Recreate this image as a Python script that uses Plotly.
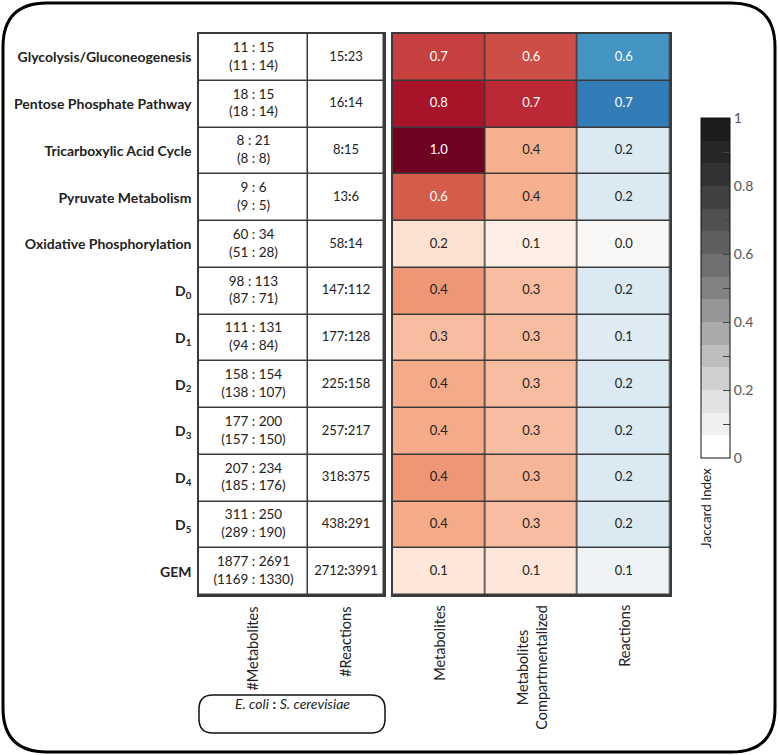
import plotly.graph_objects as go

W, H = 778, 755

# ---------------- data ----------------
pathways = ["Glycolysis/Gluconeogenesis", "Pentose Phosphate Pathway", "Tricarboxylic Acid Cycle",
            "Pyruvate Metabolism", "Oxidative Phosphorylation",
            "D<sub>0</sub>", "D<sub>1</sub>", "D<sub>2</sub>", "D<sub>3</sub>", "D<sub>4</sub>",
            "D<sub>5</sub>", "GEM"]
met_counts = ["11 : 15", "18 : 15", "8 : 21", "9 : 6", "60 : 34", "98 : 113", "111 : 131",
              "158 : 154", "177 : 200", "207 : 234", "311 : 250", "1877 : 2691"]
met_counts_comp = ["11 : 14", "18 : 14", "8 : 8", "9 : 5", "51 : 28", "87 : 71", "94 : 84",
                   "138 : 107", "157 : 150", "185 : 176", "289 : 190", "1169 : 1330"]
rxn_counts = ["15:23", "16:14", "8:15", "13:6", "58:14", "147:112", "177:128", "225:158",
              "257:217", "318:375", "438:291", "2712:3991"]
jaccard_met = [0.69, 0.83, 0.98, 0.61, 0.16, 0.44, 0.31, 0.38, 0.38, 0.44, 0.38, 0.12]
jaccard_met_comp = [0.649, 0.749, 0.36, 0.36, 0.07, 0.31, 0.31, 0.31, 0.31, 0.34, 0.31, 0.12]
jaccard_rxn = [0.60, 0.70, 0.155, 0.155, 0.02, 0.155, 0.14, 0.155, 0.155, 0.155, 0.155, 0.07]
table_cols = ["#Metabolites", "#Reactions"]
heat_cols = ["Metabolites", "Metabolites<br>Compartmentalized", "Reactions"]
cbar_ticks = [0, 0.1, 0.2, 0.3, 0.4, 0.5, 0.6, 0.7, 0.8, 0.9, 1]
cbar_ticktext = ["0", "", "0.2", "", "0.4", "", "0.6", "", "0.8", "", "1"]
legend_text = "<i>E. coli</i> <b>:</b> <i>S. cerevisiae</i>"

# ---------------- styles ----------------
FONT = "Lato"
DARK = "#222222"
GRID = "#3a3a3a"
reds = [[0.0, "rgb(255,250,246)"], [0.2, "rgb(253,219,199)"], [0.4, "rgb(244,165,130)"],
        [0.6, "rgb(214,96,77)"], [0.8, "rgb(178,24,43)"], [1.0, "rgb(103,0,31)"]]
blues = [[0.0, "rgb(253,250,248)"], [0.2, "rgb(209,229,240)"], [0.4, "rgb(146,197,222)"],
         [0.6, "rgb(67,147,195)"], [0.8, "rgb(33,102,172)"], [1.0, "rgb(5,48,97)"]]
greys_levels = [255, 240, 226, 208, 190, 170, 150, 130, 112, 95, 80, 65, 50, 38, 28]
n = len(greys_levels)
greys = []
for i, g in enumerate(greys_levels):
    c = f"rgb({g},{g},{g})"
    greys.append([i / n, c])
    greys.append([(i + 1) / n, c])

nrow = len(pathways)
rows_edges = list(range(nrow + 1))
row_centers = [i + 0.5 for i in range(nrow)]

def px_x(p):
    return p / W

def px_y(p):
    return 1 - p / H

# table / heatmap geometry (pixels)
TAB_L, TAB_M, TAB_R = 199, 308, 384
HM_L, HM_R = 392.5, 670
TOP, BOT = 34, 595

fig = go.Figure()

# ---- table cells (white) ----
tab_edges = [0, TAB_M - TAB_L, TAB_R - TAB_L]
fig.add_trace(go.Heatmap(
    z=[[0, 0] for _ in range(nrow)], x=tab_edges, y=rows_edges,
    colorscale=[[0, "white"], [1, "white"]], zmin=0, zmax=1, showscale=False,
    xgap=1.5, ygap=1.5, hoverinfo="skip", xaxis="x", yaxis="y"))
tab_c1 = (tab_edges[0] + tab_edges[1]) / 2
tab_c2 = (tab_edges[1] + tab_edges[2]) / 2
fig.add_trace(go.Scatter(
    x=[tab_c1] * nrow, y=row_centers, mode="text",
    text=[f"{a}<br>({b})" for a, b in zip(met_counts, met_counts_comp)],
    textfont=dict(family=FONT, size=13.5, color=DARK), hoverinfo="skip",
    showlegend=False, xaxis="x", yaxis="y"))
fig.add_trace(go.Scatter(
    x=[tab_c2] * nrow, y=row_centers, mode="text",
    text=[r.replace(":", "<b>:</b>") for r in rxn_counts],
    textfont=dict(family=FONT, size=13, color=DARK), hoverinfo="skip",
    showlegend=False, xaxis="x", yaxis="y"))

# ---- heatmaps ----
fig.add_trace(go.Heatmap(
    z=[[a, b] for a, b in zip(jaccard_met, jaccard_met_comp)], x=[0, 1, 2], y=rows_edges,
    colorscale=reds, zmin=0, zmax=1, showscale=False, xgap=1.5, ygap=1.5,
    hoverinfo="skip", xaxis="x2", yaxis="y2"))
fig.add_trace(go.Heatmap(
    z=[[c] for c in jaccard_rxn], x=[2, 3], y=rows_edges,
    colorscale=blues, zmin=0, zmax=1, showscale=False, xgap=1.5, ygap=1.5,
    hoverinfo="skip", xaxis="x2", yaxis="y2"))
for ci, vals in enumerate([jaccard_met, jaccard_met_comp, jaccard_rxn]):
    fig.add_trace(go.Scatter(
        x=[ci + 0.5] * nrow, y=row_centers, mode="text",
        text=[f"{v:.1f}" for v in vals],
        textfont=dict(family=FONT, size=13,
                      color=["white" if v >= 0.5 else DARK for v in vals]),
        hoverinfo="skip", showlegend=False, xaxis="x2", yaxis="y2"))

# ---- colorbar (Jaccard Index) ----
fig.add_trace(go.Scatter(
    x=[None], y=[None], mode="markers", xaxis="x2", yaxis="y2", showlegend=False,
    marker=dict(color=[0], cmin=0, cmax=1, colorscale=greys, showscale=True,
                colorbar=dict(
                    x=px_x(701), xanchor="left", xref="paper",
                    y=px_y(118), yanchor="top", yref="paper",
                    len=340, lenmode="pixels", thickness=29, thicknessmode="pixels",
                    outlinewidth=1, outlinecolor="#111",
                    tickmode="array", tickvals=cbar_ticks, ticktext=cbar_ticktext,
                    ticks="inside", ticklen=7, tickcolor="#444", tickwidth=1.2,
                    tickfont=dict(family=FONT, size=14, color="#555"),
                    xpad=0, ypad=0))))

axis_common = dict(showgrid=False, zeroline=False, showline=True, mirror=True,
                   linecolor=GRID, linewidth=1.5)

fig.update_layout(
    width=W, height=H, autosize=False,
    margin=dict(l=0, r=0, t=0, b=0),
    paper_bgcolor="white", plot_bgcolor=GRID,
    font=dict(family=FONT, color=DARK),
    showlegend=False,
    xaxis=dict(domain=[px_x(TAB_L), px_x(TAB_R)], range=[0, tab_edges[-1]],
               tickmode="array", tickvals=[tab_c1, tab_c2], ticktext=table_cols,
               tickangle=-90, ticks="outside", ticklen=4, tickcolor="rgba(0,0,0,0)",
               tickfont=dict(family=FONT, size=14.5, color=DARK),
               anchor="y", **axis_common),
    yaxis=dict(domain=[px_y(BOT), px_y(TOP)], range=[nrow, 0],
               tickmode="array", tickvals=row_centers, ticktext=pathways,
               ticks="outside", ticklen=3, tickcolor="rgba(0,0,0,0)",
               tickfont=dict(family=FONT, size=14, color=DARK, weight="bold"),
               anchor="x", **axis_common),
    xaxis2=dict(domain=[px_x(HM_L), px_x(HM_R)], range=[0, 3], showticklabels=False,
                anchor="y2", **axis_common),
    yaxis2=dict(domain=[px_y(BOT), px_y(TOP)], range=[nrow, 0], showticklabels=False,
                anchor="x2", **axis_common),
)

# heatmap column labels (rotated, lines centred)
for i, lab in enumerate(heat_cols):
    fig.add_annotation(xref="x2", yref="paper", x=i + 0.5, y=px_y(603), yanchor="top",
                       text=lab, textangle=-90, showarrow=False, align="center",
                       font=dict(family=FONT, size=14.5, color=DARK))

def rounded_path(x0, y0, x1, y1, r):
    X = lambda p: px_x(p)
    Y = lambda p: px_y(p)
    return (f"M {X(x0 + r)},{Y(y0)} L {X(x1 - r)},{Y(y0)} Q {X(x1)},{Y(y0)} {X(x1)},{Y(y0 + r)} "
            f"L {X(x1)},{Y(y1 - r)} Q {X(x1)},{Y(y1)} {X(x1 - r)},{Y(y1)} "
            f"L {X(x0 + r)},{Y(y1)} Q {X(x0)},{Y(y1)} {X(x0)},{Y(y1 - r)} "
            f"L {X(x0)},{Y(y0 + r)} Q {X(x0)},{Y(y0)} {X(x0 + r)},{Y(y0)} Z")

fig.add_shape(type="path", xref="paper", yref="paper",
              path=rounded_path(3, 3, 775, 752, 44), line=dict(color="black", width=3))
fig.add_shape(type="path", xref="paper", yref="paper",
              path=rounded_path(199, 695, 385, 733, 14), line=dict(color="#111", width=1.5))

fig.add_annotation(xref="paper", yref="paper", x=px_x(292), y=px_y(714), text=legend_text,
                   showarrow=False, font=dict(family=FONT, size=14, color=DARK))
fig.add_annotation(xref="paper", yref="paper", x=px_x(716), y=px_y(466), yanchor="top",
                   text="Jaccard Index", textangle=-90, showarrow=False,
                   font=dict(family=FONT, size=13.5, color=DARK))

fig.write_html("out.html")
